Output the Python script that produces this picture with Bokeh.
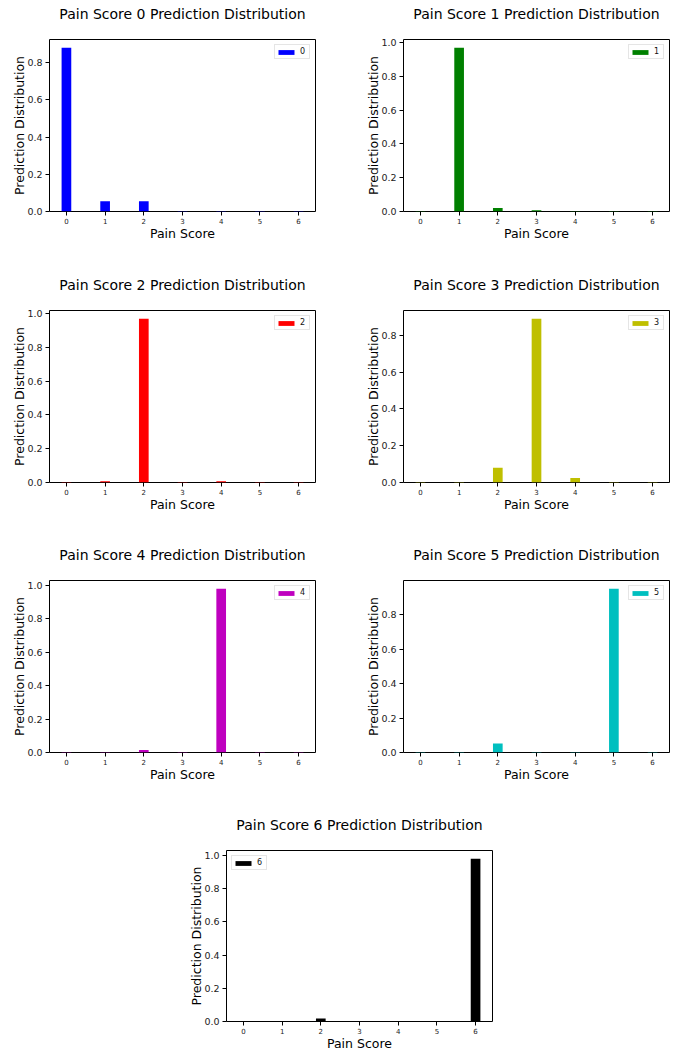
from bokeh.plotting import figure
from bokeh.layouts import column, row
from bokeh.models import Range1d, FixedTicker, NumeralTickFormatter, ColumnDataSource, Title
from bokeh.embed import file_html
from bokeh.resources import INLINE

# Predicted-score distributions for each true pain score
scores = [0, 1, 2, 3, 4, 5, 6]
dist_0 = [0.88, 0.055, 0.055, 0.003, 0.003, 0.003, 0.003]
dist_1 = [0.003, 0.97, 0.02, 0.008, 0.003, 0.003, 0.003]
dist_2 = [0.003, 0.008, 0.97, 0.003, 0.008, 0.003, 0.003]
dist_3 = [0.003, 0.003, 0.08, 0.89, 0.025, 0.003, 0.003]
dist_4 = [0.003, 0.003, 0.015, 0.003, 0.98, 0.003, 0.003]
dist_5 = [0.003, 0.003, 0.052, 0.003, 0.003, 0.95, 0.003]
dist_6 = [0.0005, 0.0005, 0.018, 0.0005, 0.0005, 0.0005, 0.98]
distributions = [dist_0, dist_1, dist_2, dist_3, dist_4, dist_5, dist_6]
colors = ["#0000ff", "#008000", "#ff0000", "#bfbf00", "#bf00bf", "#00bfbf", "#000000"]
y_ticks = [0.0, 0.2, 0.4, 0.6, 0.8, 1.0]

FONT = "DejaVu Sans"
BAR_WIDTH = 0.25
X_LO, X_HI = -0.4375, 6.4375


def make_panel(idx, width, height, left, right, top, bottom, spacer, legend_loc="top_right"):
    vals = distributions[idx]
    ymax = max(vals) * 1.05
    p = figure(width=width, height=height, output_backend="svg", toolbar_location=None,
               x_range=Range1d(X_LO, X_HI), y_range=Range1d(0, ymax),
               min_border_left=left, min_border_right=right,
               min_border_top=top, min_border_bottom=bottom)
    src = ColumnDataSource(dict(x=scores, top=vals))
    p.vbar(x="x", top="top", width=BAR_WIDTH, source=src, color=colors[idx],
           line_color=None, legend_label=str(idx))

    # blank spacer next to the frame lifts the title clear of the plot box
    p.add_layout(Title(text=" ", text_font=FONT, text_font_size=f"{spacer}px", standoff=0), "above")
    p.add_layout(Title(text=f"Pain Score {idx} Prediction Distribution", align="center",
                       text_font=FONT, text_font_size="14px", text_font_style="normal",
                       text_color="#000000", standoff=0), "above")

    p.xgrid.visible = False
    p.ygrid.visible = False
    p.outline_line_color = "#000000"
    p.outline_line_width = 1
    p.outline_line_alpha = 1
    p.background_fill_color = "white"
    p.border_fill_color = "white"

    p.xaxis.ticker = FixedTicker(ticks=scores)
    p.yaxis.ticker = FixedTicker(ticks=y_ticks)
    p.yaxis.formatter = NumeralTickFormatter(format="0.0")
    for ax in (p.xaxis, p.yaxis):
        ax.axis_line_color = None
        ax.minor_tick_line_color = None
        ax.major_tick_in = 0
        ax.major_tick_out = 4
        ax.major_tick_line_color = "#000000"
        ax.major_label_text_font = FONT
        ax.major_label_text_color = "#222222"
        ax.axis_label_text_font = FONT
        ax.axis_label_text_font_size = "12.5px"
        ax.axis_label_text_font_style = "normal"
        ax.axis_label_text_color = "#000000"
    p.xaxis.major_label_text_font_size = "7px"
    p.xaxis.major_label_standoff = 2
    p.xaxis.axis_label_standoff = -1
    p.yaxis.major_label_text_font_size = "9.5px"
    p.yaxis.major_label_standoff = 3
    p.yaxis.axis_label_standoff = -3
    p.xaxis.axis_label = "Pain Score"
    p.yaxis.axis_label = "Prediction Distribution"

    lg = p.legend[0]
    lg.location = legend_loc
    lg.margin = 5
    lg.padding = 1
    lg.spacing = 0
    lg.glyph_width = 20
    lg.glyph_height = 6
    lg.label_height = 11
    lg.label_width = 8
    lg.label_standoff = 4
    lg.label_text_font = FONT
    lg.label_text_font_size = "8px"
    lg.label_text_color = "#111111"
    lg.label_text_baseline = "middle"
    lg.border_line_color = "#cccccc"
    lg.border_line_width = 1
    lg.background_fill_alpha = 0.8
    return p


p0 = make_panel(0, 339, 270, 49, 24, 39, 59, 13.7)
p1 = make_panel(1, 339, 270, 64, 9, 39, 59, 13.7)
p2 = make_panel(2, 339, 270, 49, 24, 40, 58, 14.5)
p3 = make_panel(3, 339, 270, 64, 9, 40, 58, 14.5)
p4 = make_panel(4, 339, 270, 49, 24, 40, 58, 14.5)
p5 = make_panel(5, 339, 270, 64, 9, 40, 58, 14.5)
p6 = make_panel(6, 678, 243, 226, 186, 40, 31, 14.5, legend_loc="top_left")

layout = column(row(p0, p1), row(p2, p3), row(p4, p5), p6)

with open("out.html", "w") as f:
    f.write(file_html(layout, INLINE))
